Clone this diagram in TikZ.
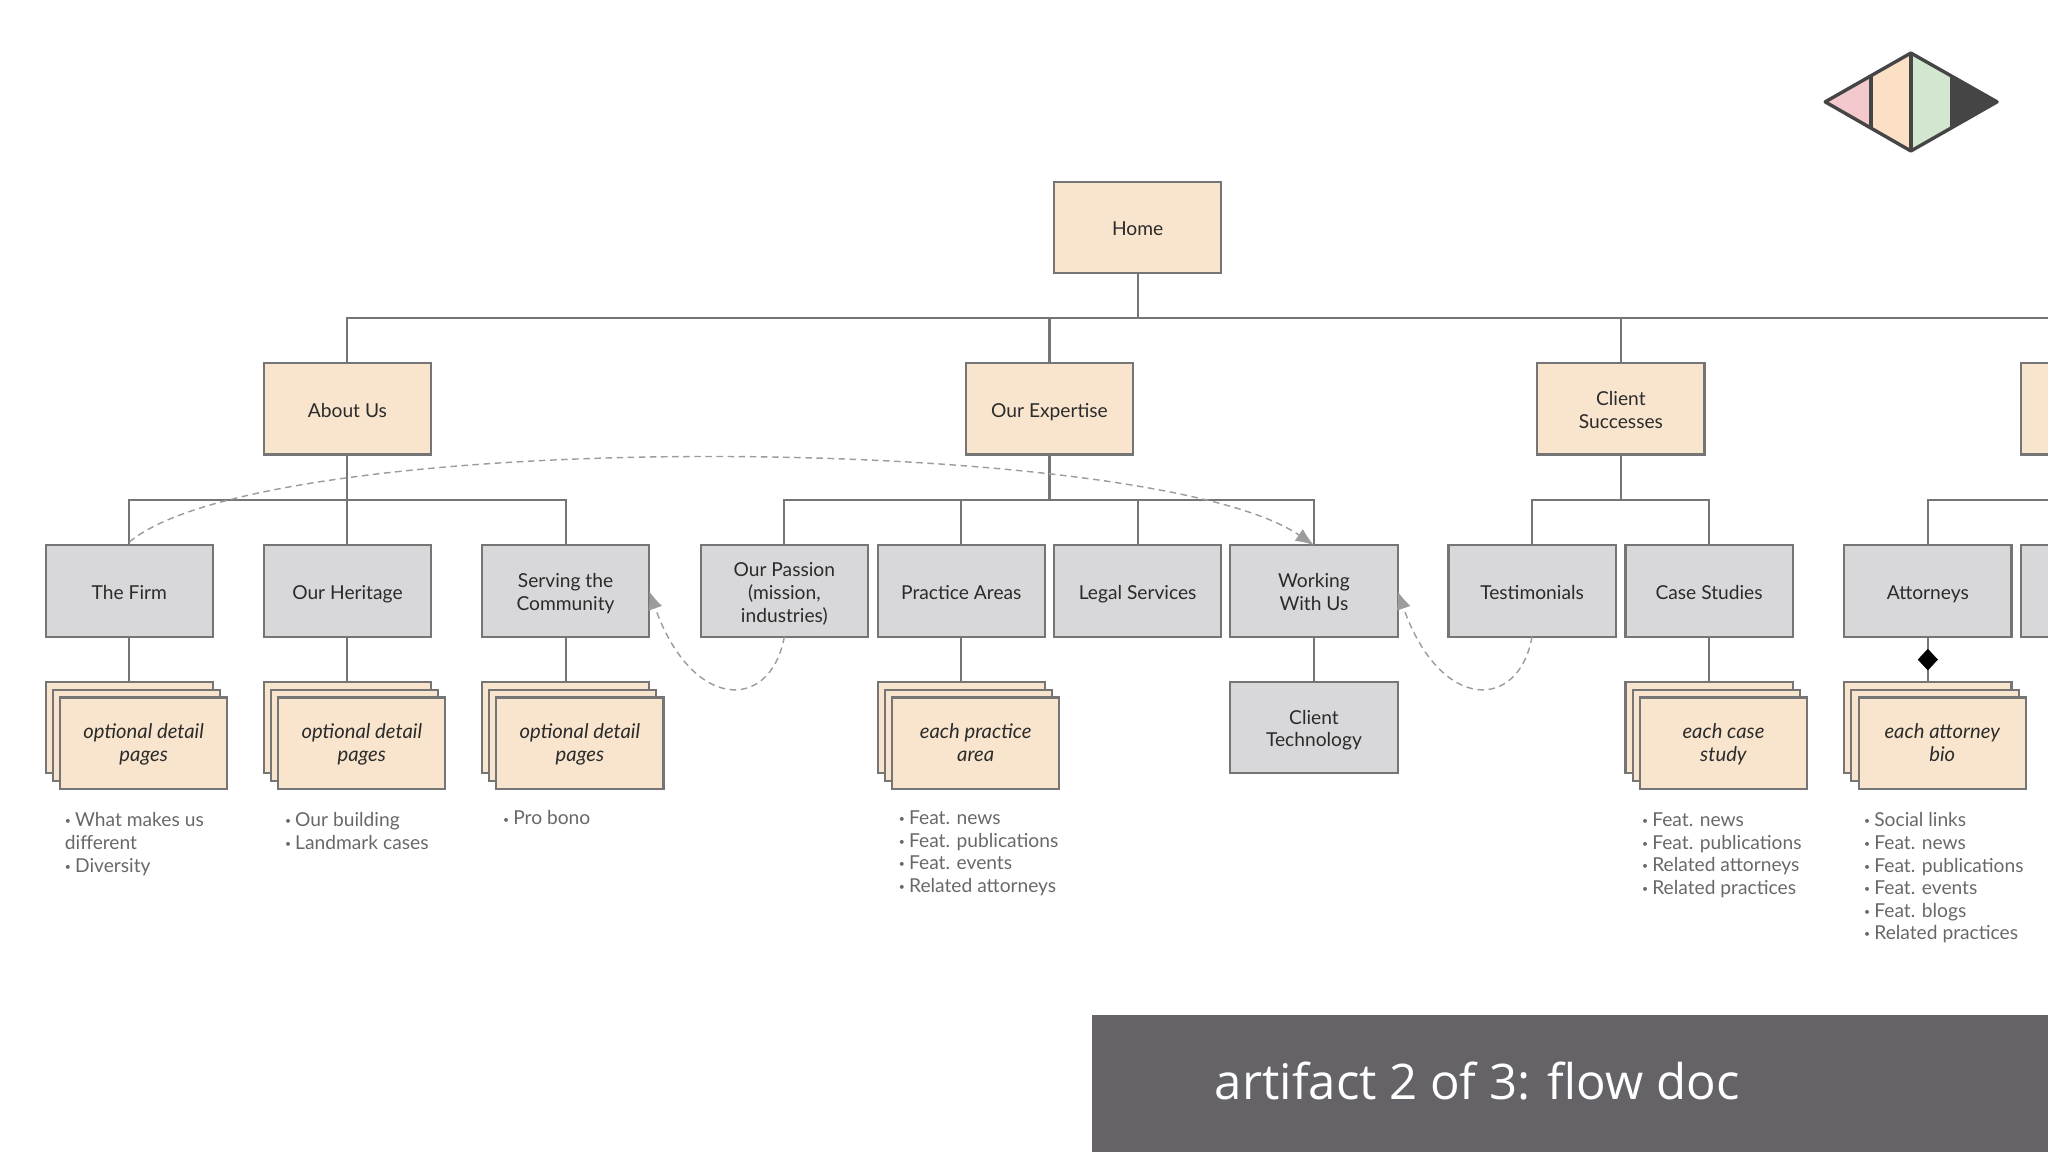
\documentclass[tikz,border=0pt]{standalone}
\usepackage{fontspec}
\setmainfont{Lato}
\newfontfamily\captionfont{Open Sans}
\usetikzlibrary{shapes.geometric,arrows.meta}
\definecolor{peach}{HTML}{F9E5CE}
\definecolor{panel}{HTML}{D8D8DA}
\definecolor{edge}{HTML}{757575}
\definecolor{ink}{HTML}{2B2B2B}
\definecolor{note}{HTML}{686868}
\definecolor{hop}{HTML}{9C9C9C}
\definecolor{slate}{HTML}{656367}
\definecolor{logoline}{HTML}{454545}
\definecolor{logopink}{HTML}{F3C9CE}
\definecolor{logopeach}{HTML}{FBE0C5}
\definecolor{logogreen}{HTML}{D3E6CF}
\newcommand{\notebul}{{\fontsize{8}{8}\selectfont\raisebox{1.4pt}{•}}\hspace{3.2pt}}
\newcommand{\boxstrut}{\rule[-3.5pt]{0pt}{20pt}}
\tikzset{
  box/.style={draw=edge,line width=1.6pt,minimum width=128pt,minimum height=70pt,inner sep=0pt,outer sep=0pt,align=center,text=ink,font=\fontsize{14.7}{17.3}\selectfont,execute at begin node={\boxstrut},execute at end node={\boxstrut}},
  lines/.style={execute at begin node={\rule{0pt}{#1}}},
  page/.style={box,fill=peach},
  sect/.style={box,fill=panel},
  detail/.style={page,font=\fontsize{15.5}{17.3}\selectfont\itshape,lines=31.5pt},
  link/.style={draw=edge,line width=1.6pt},
  hopline/.style={draw=hop,line width=1.1pt,dash pattern=on 5pt off 3.5pt,-{Latex[length=14pt,width=11pt]}},
  notes/.style={anchor=north west,inner sep=0pt,align=left,text=note,font=\fontsize{14.7}{17.3}\selectfont}
}
\begin{document}
\begin{tikzpicture}[x=1pt,y=-1pt]
\useasboundingbox (0,0) rectangle (1568,882);
\clip (0,0) rectangle (1568,882);
% logo
\fill[logopink] (1397.4,78) -- (1432.6,57.9) -- (1432.6,98.1) -- cycle;
\fill[logopeach] (1432.6,57.9) -- (1463,40.6) -- (1463,115.6) -- (1432.6,98.1) -- cycle;
\fill[logogreen] (1463,40.6) -- (1493,57.5) -- (1493,98.5) -- (1463,115.6) -- cycle;
\fill[logoline] (1493,57.5) -- (1529,78) -- (1493,98.5) -- cycle;
\draw[logoline,line width=2.6pt,line join=round] (1397.4,78) -- (1463,40.6) -- (1529,78) -- (1463,115.6) -- cycle;
\draw[logoline,line width=2.6pt] (1432.6,57.9) -- (1432.6,98.1) (1463,40.6) -- (1463,115.6);
% top levels
\node[page] (home) at (871,174) {Home};
\node[page] (about) at (266,313) {About Us};
\node[page] (expertise) at (803.5,313) {Our Expertise};
\node[page,lines=33pt] (client) at (1241,313) {Client\\Successes};
\node[page] (nextpage) at (1611,313) {};
% second level
\node[sect] (firm) at (99,452.5) {The Firm};
\node[sect] (heritage) at (266,452.5) {Our Heritage};
\node[sect,lines=33pt] (serving) at (433,452.5) {Serving the\\Community};
\node[sect,lines=51pt] (passion) at (600.5,452.5) {Our Passion\\(mission,\\industries)};
\node[sect] (practice) at (736,452.5) {Practice Areas};
\node[sect] (legal) at (871,452.5) {Legal Services};
\node[sect,lines=33pt] (working) at (1006,452.5) {Working\\With Us};
\node[sect] (testimonials) at (1173,452.5) {Testimonials};
\node[sect] (cases) at (1308.5,452.5) {Case Studies};
\node[sect] (attorneys) at (1476,452.5) {Attorneys};
\node[sect] (nextsub) at (1611,452.5) {};
\node[sect,lines=33pt] (technology) at (1006,557) {Client\\Technology};
% stacks of detail pages
\foreach \x/\nm/\txt in {99/firm/optional detail\\pages,266/heritage/optional detail\\pages,433/serving/optional detail\\pages,736/practice/each practice\\area,1308.5/cases/each case\\study,1476/attorneys/each attorney\\bio}{
  \node[page] (\nm back) at (\x,557) {};
  \node[page] (\nm mid) at (\x+5.5,563) {};
  \node[detail] (\nm detail) at (\x+11,569) {\txt};
}
% connectors
\foreach \kid in {about,expertise,client,nextpage}
  \draw[link] (home.south) -- ++(0,34.5) -| (\kid.north);
\foreach \kid in {firm,heritage,serving}
  \draw[link] (about.south) -- ++(0,35) -| (\kid.north);
\foreach \kid in {passion,practice,legal,working}
  \draw[link] (expertise.south) -- ++(0,35) -| (\kid.north);
\foreach \kid in {testimonials,cases}
  \draw[link] (client.south) -- ++(0,35) -| (\kid.north);
\draw[link] (attorneys.north) -- ++(0,-35) -| (nextsub.north);
\foreach \nm in {firm,heritage,serving,practice,cases,attorneys}
  \draw[link] (\nm.south) -- (\nm back.north);
\draw[link] (working.south) -- (technology.north);
\node[diamond,fill=black,draw=black,inner sep=0pt,minimum width=15pt,minimum height=16pt] (gate) at (1476,505) {};
% dashed hops
\coordinate (firmtop) at (99,415);
\draw[hopline] (firmtop) .. controls (205,326) and (880,331) .. (working.north);
\draw[hopline] (passion.south) .. controls (590,545) and (530,545) .. (serving.east);
\draw[hopline] (testimonials.south) .. controls (1162.5,545) and (1102.5,545) .. (working.east);
% notes
\node[notes] (firmnotes) at (49.5,622) {\notebul What makes us\\different\\\notebul Diversity};
\node[notes] (heritagenotes) at (218,622) {\notebul Our building\\\notebul Landmark cases};
\node[notes] (servingnotes) at (385,620.5) {\notebul Pro bono};
\node[notes] (practicenotes) at (688,620.5) {\notebul Feat. news\\\notebul Feat. publications\\\notebul Feat. events\\\notebul Related attorneys};
\node[notes] (casesnotes) at (1257,622) {\notebul Feat. news\\\notebul Feat. publications\\\notebul Related attorneys\\\notebul Related practices};
\node[notes] (attorneysnotes) at (1427,622) {\notebul Social links\\\notebul Feat. news\\\notebul Feat. publications\\\notebul Feat. events\\\notebul Feat. blogs\\\notebul Related practices};
% caption strip
\fill[slate] (836,777) rectangle (1568,882);
\node[anchor=west,inner sep=0pt,text=white,font=\captionfont\fontsize{37.6}{40}\selectfont] (caption) at (930,828) {artifact 2 of 3: flow doc};
\end{tikzpicture}
\end{document}
